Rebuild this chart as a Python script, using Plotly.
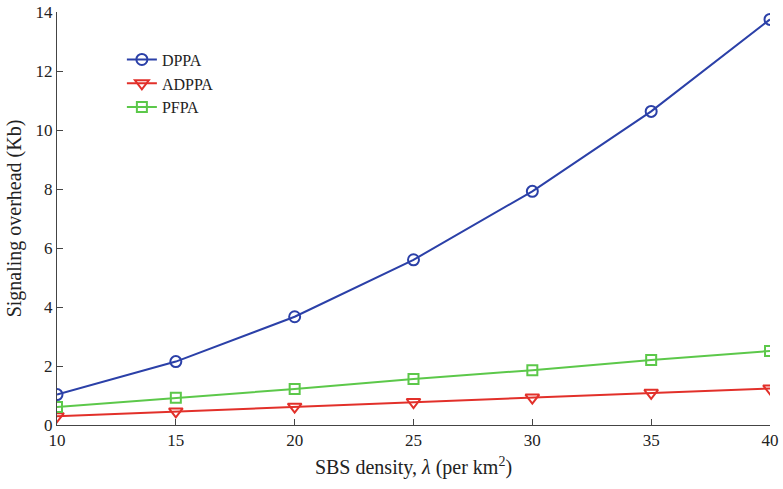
import plotly.graph_objects as go

x = [10, 15, 20, 25, 30, 35, 40]
dppa = [1.03, 2.15, 3.67, 5.60, 7.92, 10.63, 13.75]
adppa = [0.30, 0.46, 0.62, 0.78, 0.93, 1.09, 1.24]
pfpa = [0.61, 0.92, 1.22, 1.56, 1.86, 2.20, 2.51]
xticks = [10, 15, 20, 25, 30, 35, 40]
yticks = [0, 2, 4, 6, 8, 10, 12, 14]

fig = go.Figure()
fig.add_trace(go.Scatter(x=x, y=dppa, name="DPPA", mode="lines+markers",
                         line=dict(color="#2B40A8", width=2),
                         marker=dict(symbol="circle-open", size=11, line=dict(width=2, color="#2B40A8"))))
fig.add_trace(go.Scatter(x=x, y=adppa, name="ADPPA", mode="lines+markers",
                         line=dict(color="#E2302A", width=2),
                         marker=dict(symbol="triangle-down-open", size=12, line=dict(width=2, color="#E2302A"))))
fig.add_trace(go.Scatter(x=x, y=pfpa, name="PFPA", mode="lines+markers",
                         line=dict(color="#5CC84A", width=2),
                         marker=dict(symbol="square-open", size=10, line=dict(width=2, color="#5CC84A"))))

font = dict(family="Liberation Serif, Times New Roman, serif", size=17, color="#222")
fig.update_layout(
    width=783, height=489,
    margin=dict(l=57, r=13, t=12, b=64, autoexpand=False),
    paper_bgcolor="white", plot_bgcolor="white",
    font=font,
    showlegend=True,
    legend=dict(x=0.091, y=0.926, xanchor="left", yanchor="top",
                bgcolor="rgba(0,0,0,0)", font=dict(size=16), tracegroupgap=0),
    xaxis=dict(range=[10, 40], tickvals=xticks, ticks="inside", ticklen=6, automargin=False,
               showline=True, linecolor="#444", tickcolor="#444", showgrid=False, zeroline=False,
               title=dict(text="SBS density, <i>λ</i> (per km<sup>2</sup>)", standoff=10)),
    yaxis=dict(range=[0, 14], tickvals=yticks, ticks="inside", ticklen=6, automargin=False,
               showline=True, linecolor="#444", tickcolor="#444", showgrid=False, zeroline=False,
               title=dict(text="Signaling overhead (Kb)", standoff=8)),
)
fig.write_html("out.html", config={"displayModeBar": False},
               post_script="document.body.style.margin='0';")
